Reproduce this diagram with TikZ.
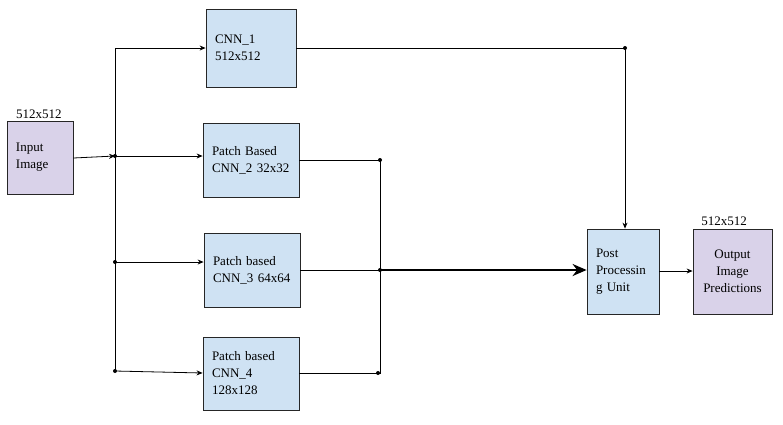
\documentclass[tikz,border=0pt]{standalone}
\usepackage{fontspec}
\setmainfont{Liberation Serif}
\usetikzlibrary{arrows.meta}
\definecolor{boxblue}{HTML}{CFE2F3}
\definecolor{boxpurple}{HTML}{D9D2E9}
\begin{document}
\begin{tikzpicture}[x=1pt,y=-1pt,
  font=\fontsize{13}{17}\selectfont,
  blk/.style={draw=black!85,line width=0.8pt,rectangle,inner xsep=9pt,inner ysep=0pt,align=left},
  bluebox/.style={blk,fill=boxblue},
  purplebox/.style={blk,fill=boxpurple},
  conn/.style={line width=0.8pt,-{Stealth[length=6pt,width=5pt]}},
  wire/.style={line width=0.8pt},
  jdot/.style={circle,fill=black,inner sep=0pt,minimum size=4pt},
  dimlabel/.style={inner sep=0pt}]
\useasboundingbox (0,0) rectangle (783,424);
% boxes
\node[purplebox,minimum width=66pt,minimum height=73pt,text width=48pt] (in) at (40,157.5) {Input\\Image};
\node[bluebox,minimum width=90pt,minimum height=78pt,text width=72pt] (c1) at (251,48) {CNN\_1\\512x512};
\node[bluebox,minimum width=96pt,minimum height=74pt,text width=78pt] (c2) at (251,160) {Patch Based\\CNN\_2 32x32};
\node[bluebox,minimum width=96pt,minimum height=74pt,text width=78pt] (c3) at (252,270) {Patch based\\CNN\_3 64x64};
\node[bluebox,minimum width=96pt,minimum height=73pt,text width=78pt] (c4) at (251,373.5) {Patch based\\CNN\_4\\128x128};
\node[bluebox,minimum width=72pt,minimum height=85pt,text width=54pt] (pp) at (623,271.5) {Post\\Processin\\g Unit};
\node[purplebox,minimum width=79pt,minimum height=85pt,text width=61pt,align=center] (out) at (732.5,271.5) {Output\\Image\\Predictions};
% dimension labels
\node[dimlabel] (inlab) at (39,114) {512x512};
\node[dimlabel] (outlab) at (724,221) {512x512};
% left bus junctions
\coordinate (btop) at (115,48);
\node[jdot] (j2) at (115,156) {};
\node[jdot] (j3) at (115,262) {};
\node[jdot] (j4) at (115,371) {};
\draw[wire] (btop) -- (j4.center);
\draw[conn] (in.east |- 0,158) -- (j2.center);
\draw[conn] (btop) -- (c1.west |- btop);
\draw[conn] (j2.center) -- (c2.west |- 0,156);
\draw[conn] (j3.center) -- (c3.west |- 0,262);
\draw[conn] (j4.center) -- (c4.west |- 0,373);
% right bus
\node[jdot] (r2) at (380,160) {};
\node[jdot] (r3) at (380,270) {};
\node[jdot] (r4) at (378,373) {};
\draw[wire] (c2.east |- r2) -- (r2.center);
\draw[wire] (c3.east |- r3) -- (r3.center);
\draw[wire] (c4.east |- r4) -- (r4.center);
\draw[wire] (r2.center) -- (380,373) -- (r4.center);
\draw[line width=2.6pt,-{Stealth[length=14pt,width=12pt]}] (r3.center) -- (pp.west |- r3);
% CNN_1 to post processing
\node[jdot] (k1) at (625,48) {};
\draw[wire] (c1.east |- k1) -- (k1.center);
\draw[conn] (k1.center) -- (pp.north -| k1);
% post to output
\draw[conn] (pp.east |- 0,271) -- (out.west |- 0,271);
\end{tikzpicture}
\end{document}
